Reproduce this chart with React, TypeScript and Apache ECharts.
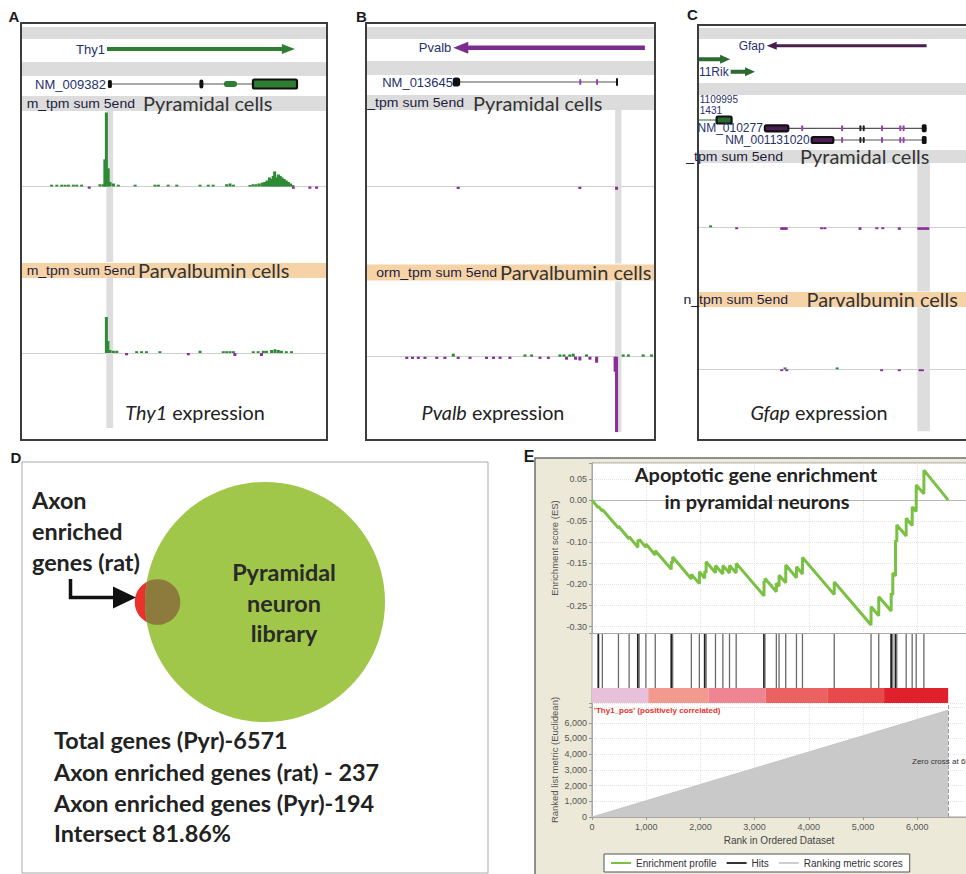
import React, { useEffect, useRef } from 'react';
import * as echarts from 'echarts';

// ======================= DATA =======================
// Panels A–C: genome-browser windows. x = position inside the visible window (0–100, arbitrary genomic units);
// track values = 5'-end tag density (positive = + strand, negative = − strand).

// ---- A · Thy1 ----
const thy1GeneSpan = [28.1, 89.5];
const thy1TxId = 'NM_009382';
const thy1TxSpan = [28.4, 90.2];
const thy1Exons = [[28.4, 29.7], [58.3, 59.6], [66.3, 70.6], [75.8, 90.2]];
const thy1Tss = [27.9, 30.1];
const thy1PyrPlus = [[10.0, 1.2], [11.7, 1.2], [13.3, 1.2], [14.4, 1.2], [15.5, 1.2], [17.1, 1.2], [18.2, 1.2], [19.8, 1.2], [25.8, 1.5], [26.9, 1.5], [27.4, 18], [27.9, 49], [28.5, 12], [29.1, 3], [30.2, 2], [31.8, 1.2], [37.3, 1.2], [43.8, 1.2], [44.9, 1.2], [48.1, 1.2], [50.9, 1.2], [58.5, 1.2], [61.2, 1.2], [62.8, 1.2], [67.2, 1.5], [68.3, 2], [69.4, 1.2], [74.8, 1], [75.8, 1.5], [76.8, 1.5], [77.8, 2], [78.8, 2.5], [79.6, 3], [80.4, 4], [81.2, 6], [81.8, 5], [82.4, 7], [82.9, 10], [83.5, 6], [84.1, 8], [84.7, 7], [85.3, 6], [86.0, 5], [86.7, 4], [87.4, 3], [88.1, 2], [88.8, 1]];
const thy1PyrMinus = [[22.3, -1.5], [89.0, -1.5], [94.4, -1.5], [96.6, -1.5]];
const thy1ParvPlus = [[27.9, 24], [28.4, 8], [29.1, 2], [30.2, 1.5], [31.3, 1.5], [37.8, 1.2], [39.4, 1.2], [41.0, 1.2], [45.4, 1.2], [58.5, 1.5], [66.1, 1.2], [67.2, 1.2], [68.3, 1.2], [69.4, 1.2], [75.9, 1.2], [77.5, 1.2], [79.2, 1.5], [80.2, 1.5], [81.9, 2], [83.0, 2.5], [84.1, 2], [85.1, 1.5], [86.7, 1.2], [88.4, 1.2]];
const thy1ParvMinus = [[34.5, -1.5], [54.7, -1.5], [69.9, -2], [78.6, -2]];

// ---- B · Pvalb ----
const pvalbGeneSpan = [30.2, 96.5];
const pvalbTxId = 'NM_013645';
const pvalbTxSpan = [30.8, 86.9];
const pvalbExons = [[30.4, 32.2], [73.8, 74.4], [79.6, 80.2], [86.5, 87.1]];
const pvalbTss = [86.2, 88.4];
const pvalbPyrPlus: number[][] = [];
const pvalbPyrMinus = [[31.9, -1.5], [74.0, -1.5], [86.7, -2]];
const pvalbParvPlus = [[30.2, 2], [55.0, 1.5], [57.3, 1.5], [67.1, 1.5], [68.5, 1.5], [70.5, 1.5], [71.7, 2], [76.3, 1.5], [89.0, 1.5], [90.8, 1.5], [95.9, 1.5], [98.8, 1.5]];
const pvalbParvMinus = [[14.1, -1.5], [16.1, -1.5], [18.1, -1.5], [20.4, -1.5], [24.5, -1.5], [27.3, -1.5], [31.9, -1.5], [36.0, -1.5], [41.7, -1.5], [44.1, -1.5], [46.4, -1.5], [49.8, -1.5], [60.2, -1.5], [63.1, -1.5], [69.4, -2], [72.5, -2], [74.0, -2.5], [77.5, -2], [79.8, -4], [86.2, -10], [86.7, -50]];

// ---- C · Gfap ----
const gfapGeneSpan = [22.9, 76.2];
const upGeneSpan = [0, 10.7];
const rikGeneSpan = [10.9, 19.0];
const upTxSpan = [0, 11.2];
const upExons = [[6.2, 11.2]];
const gfapTx1Id = 'NM_010277';
const gfapTx1Exons = [[22.3, 30.1], [34.4, 34.9], [47.7, 48.2], [53.8, 54.4], [54.9, 55.5], [61.0, 61.5], [67.1, 67.6], [68.2, 68.7], [74.6, 76.2]];
const gfapTx2Id = 'NM_001131020';
const gfapTx2Exons = [[37.9, 45.1], [47.7, 48.2], [53.8, 54.4], [54.9, 55.5], [61.0, 61.5], [67.1, 67.6], [68.2, 68.7], [74.6, 76.2]];
const gfapTss = [73.1, 77.3];
const gfapPyrPlus = [[4.2, 1.5]];
const gfapPyrMinus = [[12.9, -1.5], [27.9, -2], [28.6, -2], [29.4, -2], [41.2, -1.5], [42.3, -1.5], [54.0, -2], [59.6, -1.5], [61.6, -1.5], [67.1, -2], [73.6, -2], [74.4, -2], [75.2, -2], [76.0, -2], [76.6, -2]];
const gfapParvPlus = [[29.0, 1.5], [46.4, 1.5]];
const gfapParvMinus = [[27.9, -1.5], [29.6, -1.5], [61.2, -1.5], [67.1, -1.5], [74.0, -1.5], [74.8, -1.5]];

// ---- D · Venn ----
const totalPyr = 6571;
const axonRat = 237;
const axonPyr = 194;

// ---- E · GSEA ----
const esProfile = [
  [0, 0], [117, -0.018], [118, -0.015], [191, -0.026], [192, -0.022], [488, -0.066], [489, -0.062],
  [685, -0.092], [686, -0.087], [846, -0.112], [847, -0.094], [870, -0.098], [871, -0.093],
  [994, -0.112], [995, -0.104], [1167, -0.130], [1168, -0.120], [1463, -0.164], [1464, -0.145],
  [1488, -0.149], [1489, -0.135], [1833, -0.187], [1834, -0.176], [1981, -0.198], [1982, -0.170],
  [2080, -0.185], [2081, -0.168], [2105, -0.172], [2106, -0.146], [2278, -0.172], [2279, -0.155],
  [2414, -0.175], [2415, -0.155], [2537, -0.173], [2538, -0.155], [2660, -0.173], [2661, -0.150],
  [3173, -0.227], [3174, -0.192], [3191, -0.195], [3192, -0.186], [3401, -0.217], [3402, -0.197],
  [3451, -0.204], [3452, -0.178], [3574, -0.196], [3575, -0.154], [3772, -0.184], [3773, -0.158],
  [3883, -0.175], [3884, -0.136], [4469, -0.224], [4470, -0.194], [5148, -0.296], [5149, -0.253],
  [5290, -0.274], [5291, -0.229], [5519, -0.263], [5520, -0.221], [5549, -0.225], [5550, -0.173],
  [5599, -0.180], [5600, -0.095], [5623, -0.099], [5624, -0.059], [5796, -0.085], [5797, -0.043],
  [5907, -0.060], [5908, -0.016], [5981, -0.027], [5982, 0.036], [6123, 0.015], [6124, 0.071],
  [6571, 0.0],
];
const hitRanks = [117, 191, 488, 685, 846, 870, 994, 1167, 1463, 1488, 1833, 1981, 2080, 2105, 2278, 2414, 2537, 2660, 3173, 3191, 3401, 3451, 3574, 3772, 3883, 4469, 5148, 5290, 5519, 5549, 5599, 5623, 5796, 5907, 5981, 6123];
const hitShade = [1, 0, 0, 0, 1, 0, 0, 0, 1, 0, 0, 0, 1, 0, 0, 0, 0, 0, 1, 0, 0, 0, 0, 0, 0, 0, 0, 0, 1, 0, 1, 0, 0, 0, 0, 0];
const rankBins = [0, 1037, 2148, 3204, 4352, 5389, 6571];
const metricProfile = [[0, 0], [6571, 6800]];
const zeroCross = 6571;
const classLabel = "'Thy1_pos' (positively correlated)";

// ======================= STYLE =======================
const SANS = '"Liberation Sans", Arial, sans-serif';
const CAL = 'Lato, "Open Sans", sans-serif';
const GENE_LABEL = '#27306b';
const GENE_GREEN = '#2e7d32';
const GENE_PURPLE = '#7b2c8f';
const TICK_PURPLE = '#9a3fae';
const GFAP_PURPLE = '#4b1e50';
const SIG_GREEN = '#2f8a36';
const SIG_PURPLE = '#8a2e98';
const ES_GREEN = '#7ac143';
const BAND_GRAY = '#dcdcdc';
const BAND_ORANGE = '#f6d3a6';
const BIN_COLORS = ['#e9c0da', '#f29a8e', '#ef8493', '#ea6362', '#e84a4b', '#e0202b'];

type Feat = { k: string; s: number; e: number; y: number; fill?: string; stroke?: string; h?: number; shaft?: number; headL?: number; headH?: number; label?: string; round?: boolean; size?: number };

function exonFeats(ex: number[][], y: number, styles: Partial<Feat>[]): Feat[] {
  return ex.map((r, i) => ({ k: 'box', s: r[0], e: r[1], y, ...(styles[Math.min(i, styles.length - 1)] as any) }));
}

const featsA: Feat[] = [
  { k: 'arrowR', s: thy1GeneSpan[0], e: thy1GeneSpan[1], y: 49, fill: GENE_GREEN, shaft: 4, headL: 13, headH: 10, label: 'Thy1' },
  { k: 'line', s: thy1TxSpan[0], e: thy1TxSpan[1], y: 84, fill: '#555', label: thy1TxId },
  ...exonFeats(thy1Exons, 84, [
    { fill: '#111', h: 8 },
    { fill: '#111', h: 9, round: true },
    { fill: GENE_GREEN, h: 6, round: true },
    { fill: GENE_GREEN, h: 9, stroke: '#111' },
  ]),
];
const featsB: Feat[] = [
  { k: 'arrowL', s: pvalbGeneSpan[0], e: pvalbGeneSpan[1], y: 47.7, fill: GENE_PURPLE, shaft: 4.5, headL: 15, headH: 12, label: 'Pvalb' },
  { k: 'line', s: pvalbTxSpan[0], e: pvalbTxSpan[1], y: 82, fill: '#555', label: pvalbTxId },
  ...exonFeats(pvalbExons, 82, [
    { fill: '#111', h: 7, stroke: '#111' },
    { fill: TICK_PURPLE, h: 6 },
    { fill: TICK_PURPLE, h: 6 },
    { fill: '#111', h: 8 },
  ]),
];
const tickStyle = { fill: TICK_PURPLE, h: 6 };
const featsC: Feat[] = [
  { k: 'arrowL', s: gfapGeneSpan[0], e: gfapGeneSpan[1], y: 45.7, fill: GFAP_PURPLE, shaft: 3, headL: 10, headH: 8, label: 'Gfap', size: 12 },
  { k: 'arrowR', s: upGeneSpan[0], e: upGeneSpan[1], y: 59.3, fill: '#2d6a2f', shaft: 4, headL: 10, headH: 9 },
  { k: 'arrowR', s: rikGeneSpan[0], e: rikGeneSpan[1], y: 71.7, fill: '#2d6a2f', shaft: 4, headL: 10, headH: 9, label: '11Rik', size: 12 },
  { k: 'text', s: 0.6, e: 0.6, y: 99.5, label: '1109995', size: 10 },
  { k: 'text', s: 0.6, e: 0.6, y: 110.5, label: '1431', size: 10 },
  { k: 'line', s: upTxSpan[0], e: upTxSpan[1], y: 120, fill: '#2d6a2f' },
  ...exonFeats(upExons, 120, [{ fill: '#2d6a2f', h: 7, stroke: '#111' }]),
  { k: 'line', s: gfapTx1Exons[0][0], e: gfapTx1Exons[gfapTx1Exons.length - 1][1], y: 128.3, fill: '#555', label: gfapTx1Id, size: 12 },
  ...exonFeats(gfapTx1Exons, 128.3, [{ fill: GFAP_PURPLE, h: 6, stroke: '#111' }, tickStyle, tickStyle, { fill: '#222', h: 6 }, { fill: '#222', h: 6 }, tickStyle, tickStyle, tickStyle, { fill: '#111', h: 8 }]),
  { k: 'line', s: gfapTx2Exons[0][0], e: gfapTx2Exons[gfapTx2Exons.length - 1][1], y: 140, fill: '#555', label: gfapTx2Id, size: 12 },
  ...exonFeats(gfapTx2Exons, 140, [{ fill: GFAP_PURPLE, h: 6, stroke: '#111' }, tickStyle, { fill: '#222', h: 6 }, { fill: '#222', h: 6 }, tickStyle, tickStyle, tickStyle, { fill: '#111', h: 8 }]),
];

const panels = [
  { left: 21, width: 306, gene: [23, 73], pyr: [111, 151], parv: [278, 150], feats: featsA, tss: thy1Tss, tracks: [thy1PyrPlus, thy1PyrMinus, thy1ParvPlus, thy1ParvMinus] },
  { left: 366, width: 289, gene: [23, 72], pyr: [110, 153.4], parv: [281.3, 150.8], feats: featsB, tss: pvalbTss, tracks: [pvalbPyrPlus, pvalbPyrMinus, pvalbParvPlus, pvalbParvMinus] },
  { left: 698, width: 300, gene: [25, 125], pyr: [163, 128.6], parv: [307.3, 124], feats: featsC, tss: gfapTss, tracks: [gfapPyrPlus, gfapPyrMinus, gfapParvPlus, gfapParvMinus] },
];

function txt(x: number, y: number, text: string, o: any = {}) {
  const align = o.align || 'left';
  const va = o.va || 'middle';
  const el: any = {
    type: 'text', x, y, silent: true, z: o.z ?? 20,
    style: {
      text, fill: o.fill || '#222', fontSize: o.size || 12, fontFamily: o.family || SANS,
      fontWeight: o.weight || 'normal', fontStyle: o.italic ? 'italic' : 'normal',
      align, textAlign: align, verticalAlign: va, textVerticalAlign: va, rich: o.rich,
    },
  };
  if (o.scaleX) el.scaleX = o.scaleX;
  return el;
}
function rect(x: number, y: number, w: number, h: number, style: any, z = 1) {
  return { type: 'rect', silent: true, z, shape: { x, y, width: w, height: h }, style };
}

function geneRenderer(feats: Feat[]) {
  return (params: any, api: any) => {
    const f = feats[params.dataIndex];
    const x1 = api.coord([f.s, 0])[0];
    const x2 = api.coord([f.e, 0])[0];
    const y = f.y;
    const children: any[] = [];
    if (f.k === 'arrowR' || f.k === 'arrowL') {
      const sh = (f.shaft || 4) / 2, hh = (f.headH || 8) / 2, hl = f.headL || 10;
      const pts = f.k === 'arrowR'
        ? [[x1, y - sh], [x2 - hl, y - sh], [x2 - hl, y - hh], [x2, y], [x2 - hl, y + hh], [x2 - hl, y + sh], [x1, y + sh]]
        : [[x2, y - sh], [x1 + hl, y - sh], [x1 + hl, y - hh], [x1, y], [x1 + hl, y + hh], [x1 + hl, y + sh], [x2, y + sh]];
      children.push({ type: 'polygon', shape: { points: pts }, style: { fill: f.fill } });
    } else if (f.k === 'line') {
      children.push({ type: 'line', shape: { x1, y1: y, x2, y2: y }, style: { stroke: f.fill, lineWidth: 1.2 } });
    } else if (f.k === 'box') {
      const w = Math.max(x2 - x1, 2);
      const h = f.h || 6;
      children.push({
        type: 'rect',
        shape: { x: x1, y: y - h / 2, width: w, height: h, r: f.round ? Math.min(w, h) / 2 : 1.5 },
        style: f.stroke ? { fill: f.fill, stroke: f.stroke, lineWidth: 2.2 } : { fill: f.fill },
      });
    }
    if (f.label) {
      const isText = f.k === 'text';
      const tx = isText ? x1 : x1 - 2;
      const align = isText ? 'left' : 'right';
      children.push({
        type: 'text', x: tx, y,
        style: { text: f.label, fill: GENE_LABEL, fontSize: f.size || 13, fontFamily: SANS, align, textAlign: align, verticalAlign: 'middle', textVerticalAlign: 'middle' },
      });
    }
    return { type: 'group', children };
  };
}

function buildVennLens(cx: number, cy: number, R: number, r: number, d: number) {
  const a = (d * d + R * R - r * r) / (2 * d);
  const h = Math.sqrt(Math.max(R * R - a * a, 0));
  const px = cx - a;
  const sx = cx - d;
  const large = px < sx ? 1 : 0;
  return `M ${px} ${cy - h} A ${r} ${r} 0 ${large} 1 ${px} ${cy + h} A ${R} ${R} 0 0 1 ${px} ${cy - h} Z`;
}
function lensArea(R: number, r: number, d: number) {
  if (d >= R + r) return 0;
  if (d <= R - r) return Math.PI * r * r;
  const a1 = r * r * Math.acos((d * d + r * r - R * R) / (2 * d * r));
  const a2 = R * R * Math.acos((d * d + R * R - r * r) / (2 * d * R));
  const a3 = 0.5 * Math.sqrt((-d + r + R) * (d + r - R) * (d - r + R) * (d + r + R));
  return a1 + a2 - a3;
}

function buildOption() {
  const grid: any[] = [];
  const xAxis: any[] = [];
  const yAxis: any[] = [];
  const series: any[] = [];
  const hidden = { show: false };

  panels.forEach((p) => {
    const gi = grid.length;
    grid.push({ left: p.left, width: p.width, top: p.gene[0], height: p.gene[1], outerBoundsMode: 'none' });
    grid.push({ left: p.left, width: p.width, top: p.pyr[0], height: p.pyr[1], outerBoundsMode: 'none' });
    grid.push({ left: p.left, width: p.width, top: p.parv[0], height: p.parv[1], outerBoundsMode: 'none' });
    for (let k = 0; k < 3; k++) {
      xAxis.push({
        gridIndex: gi + k, type: 'value', min: 0, max: 100, show: k > 0,
        axisLine: { show: true, onZero: true, lineStyle: { color: '#d0d0d0', width: 1 } },
        axisTick: hidden, axisLabel: hidden, splitLine: hidden,
      });
      yAxis.push(k === 0
        ? { gridIndex: gi + k, type: 'value', min: 0, max: 1, show: false }
        : { gridIndex: gi + k, type: 'value', min: -50, max: 50, show: false, splitLine: hidden });
    }
    series.push({
      type: 'custom', name: 'gene models', xAxisIndex: gi, yAxisIndex: gi, silent: true, clip: false,
      data: p.feats.map((f) => [f.s, f.e]), renderItem: geneRenderer(p.feats), z: 3,
    });
    p.tracks.forEach((trk, ti) => {
      const idx = gi + 1 + (ti >> 1);
      const plus = ti % 2 === 0;
      series.push({
        type: 'bar', name: 'track', xAxisIndex: idx, yAxisIndex: idx, silent: true,
        data: trk, barWidth: 3, barGap: '-100%',
        itemStyle: { color: plus ? SIG_GREEN : SIG_PURPLE },
        markArea: plus ? { silent: true, itemStyle: { color: '#dddddd' }, data: [[{ xAxis: p.tss[0] }, { xAxis: p.tss[1] }]] } : undefined,
      });
    });
  });

  // ---------- Panel E ----------
  const eLeft = 592;
  const eMax = 6900;
  const gES = grid.length;
  grid.push({ left: eLeft, right: 0, top: 463, height: 170, outerBoundsMode: 'none' });
  grid.push({ left: eLeft, right: 0, top: 633, height: 55, outerBoundsMode: 'none' });
  grid.push({ left: eLeft, right: 0, top: 688, height: 15, outerBoundsMode: 'none' });
  grid.push({ left: eLeft, right: 0, top: 703, height: 114, outerBoundsMode: 'none' });
  const dotted = { show: true, lineStyle: { color: '#e3e3e3', type: 'dotted', width: 1 } };
  const axLbl = { fontSize: 9, color: '#555', fontFamily: SANS };
  xAxis.push({ gridIndex: gES, type: 'value', min: 0, max: eMax, interval: 1000, axisLine: { show: true, onZero: false, lineStyle: { color: '#a8a8a8' } }, axisTick: hidden, axisLabel: hidden, splitLine: dotted });
  yAxis.push({
    gridIndex: gES, type: 'value', min: -0.315, max: 0.088, splitNumber: 8,
    axisLine: { show: true, onZero: false, lineStyle: { color: '#a8a8a8' } },
    axisTick: { show: true, length: 3, lineStyle: { color: '#999' } },
    axisLabel: { ...axLbl, margin: 5, formatter: (v: number) => { const k = Math.round(v / 0.05); return Math.abs(v - k * 0.05) < 1e-6 ? (k * 0.05).toFixed(2) : ''; } },
    splitLine: dotted,
    name: 'Enrichment score (ES)', nameLocation: 'middle', nameGap: 33, nameTextStyle: { fontSize: 9.5, color: '#555', fontFamily: SANS },
  });
  xAxis.push({ gridIndex: gES + 1, type: 'value', min: 0, max: eMax, show: false });
  yAxis.push({ gridIndex: gES + 1, type: 'value', min: 0, max: 1, show: false });
  xAxis.push({ gridIndex: gES + 2, type: 'value', min: 0, max: eMax, show: false });
  yAxis.push({ gridIndex: gES + 2, type: 'value', min: 0, max: 1, show: false });
  xAxis.push({
    gridIndex: gES + 3, type: 'value', min: 0, max: eMax, interval: 1000,
    axisLine: { show: true, onZero: false, lineStyle: { color: '#a8a8a8' } },
    axisTick: { show: true, length: 3, lineStyle: { color: '#999' } },
    axisLabel: { ...axLbl, margin: 5, formatter: (v: number) => (v % 1000 === 0 ? v.toLocaleString('en-US') : '') },
    splitLine: dotted,
    name: 'Rank in Ordered Dataset', nameLocation: 'middle', nameGap: 18, nameTextStyle: { fontSize: 10, color: '#444', fontFamily: SANS },
  });
  yAxis.push({
    gridIndex: gES + 3, type: 'value', min: 0, max: 7260, interval: 1000,
    axisLine: { show: true, onZero: false, lineStyle: { color: '#a8a8a8' } },
    axisTick: { show: true, length: 3, lineStyle: { color: '#999' } },
    axisLabel: { ...axLbl, margin: 5, formatter: (v: number) => (v <= 6000 && v % 1000 === 0 ? v.toLocaleString('en-US') : '') },
    splitLine: dotted,
    name: 'Ranked list metric (Euclidean)', nameLocation: 'middle', nameGap: 33, nameTextStyle: { fontSize: 9.5, color: '#555', fontFamily: SANS },
  });

  series.push({
    type: 'line', name: 'Enrichment profile', xAxisIndex: gES, yAxisIndex: gES, data: esProfile,
    symbol: 'none', showSymbol: false, lineStyle: { color: ES_GREEN, width: 3 }, itemStyle: { color: ES_GREEN }, z: 5,
    markLine: { silent: true, symbol: 'none', label: { show: false }, lineStyle: { color: '#b8b8b8', type: 'solid', width: 1 }, data: [{ yAxis: 0 }] },
  });
  series.push({
    type: 'custom', name: 'Hits', xAxisIndex: gES + 1, yAxisIndex: gES + 1, silent: true,
    itemStyle: { color: '#333' },
    data: hitRanks.map((r) => [r, 0]),
    renderItem: (params: any, api: any) => {
      const cs = params.coordSys;
      const x = api.coord([api.value(0), 0])[0];
      const dark = hitShade[params.dataIndex] === 1;
      return { type: 'line', shape: { x1: x, y1: cs.y + 1, x2: x, y2: cs.y + cs.height }, style: { stroke: dark ? '#222' : '#6a6a6a', lineWidth: dark ? 1.8 : 1.3 } };
    },
  });
  series.push({
    type: 'custom', name: 'rank bins', xAxisIndex: gES + 2, yAxisIndex: gES + 2, silent: true,
    data: rankBins.slice(0, -1).map((b, i) => [b, rankBins[i + 1]]),
    renderItem: (params: any, api: any) => {
      const cs = params.coordSys;
      const xa = api.coord([api.value(0), 0])[0];
      const xb = api.coord([api.value(1), 0])[0];
      return { type: 'rect', shape: { x: xa, y: cs.y, width: xb - xa, height: cs.height }, style: { fill: BIN_COLORS[params.dataIndex] } };
    },
  });
  series.push({
    type: 'line', name: 'Ranking metric scores', xAxisIndex: gES + 3, yAxisIndex: gES + 3, data: metricProfile,
    symbol: 'none', showSymbol: false, lineStyle: { color: '#c4c4c4', width: 1 }, itemStyle: { color: '#cfcfcf' },
    areaStyle: { color: '#c9c9c9', opacity: 1 },
    markLine: { silent: true, symbol: 'none', label: { show: false }, lineStyle: { color: '#9a9a9a', type: 'dashed', width: 1 }, data: [{ xAxis: zeroCross }] },
  });

  // ---------- Venn (panel D) ----------
  const vCx = 265, vCy = 602, vR = 120;
  const vr = vR * Math.sqrt(axonRat / totalPyr);
  const target = (axonPyr / axonRat) * Math.PI * vr * vr;
  let lo = vR - vr, hi = vR + vr;
  for (let i = 0; i < 60; i++) {
    const mid = (lo + hi) / 2;
    if (lensArea(vR, vr, mid) > target) lo = mid; else hi = mid;
  }
  const vd = (lo + hi) / 2;
  echarts.graphic.registerShape('vennLens', (echarts.graphic as any).extendPath(buildVennLens(vCx, vCy, vR, vr, vd), {}));

  const pct = ((axonPyr / axonRat) * 100).toFixed(2);
  const smallTxt = { size: 12, align: 'right', fill: '#1d1d40', scaleX: 1.17 };
  const trackTitle = { size: 18.5, family: CAL, fill: '#333', scaleX: 1.08 };
  const capRich = { i: { fontStyle: 'italic', fontSize: 19, fontFamily: CAL, fill: '#222' } };
  const cap = { size: 19, family: CAL, align: 'center', fill: '#222', rich: capRich, scaleX: 1.04 };
  const venn = { size: 22.5, family: CAL, weight: 'bold', fill: '#222', scaleX: 1.04 };

  const graphics: any[] = [
    // panel E background
    rect(535, 458, 440, 420, { fill: '#ece9d8', stroke: '#6f6f6f', lineWidth: 1.5 }, -10),
    rect(592, 463, 380, 354, { fill: '#ffffff', stroke: '#a0a0a0', lineWidth: 1 }, -5),
    // panel D frame
    rect(22, 462, 466, 411, { fill: 'none', stroke: '#a8a8a8', lineWidth: 1 }, 1),
    // Panel A bands & frame
    rect(21, 27, 306, 12, { fill: BAND_GRAY }), rect(21, 62, 306, 14, { fill: BAND_GRAY }), rect(21, 96, 306, 15, { fill: BAND_GRAY }),
    rect(21, 263, 306, 15, { fill: BAND_ORANGE }),
    rect(21, 23, 306, 417, { fill: 'none', stroke: '#3c3c3c', lineWidth: 2 }, 10),
    // Panel B
    rect(366, 27, 289, 12, { fill: BAND_GRAY }), rect(366, 61, 289, 14, { fill: BAND_GRAY }), rect(366, 95, 289, 15, { fill: BAND_GRAY }),
    rect(366, 264.5, 289, 16, { fill: BAND_ORANGE }),
    rect(366, 23, 289, 417, { fill: 'none', stroke: '#3c3c3c', lineWidth: 2 }, 10),
    // Panel C
    rect(698, 28, 300, 11, { fill: BAND_GRAY }), rect(698, 83, 300, 12, { fill: BAND_GRAY }), rect(698, 150, 300, 13, { fill: BAND_GRAY }),
    rect(698, 292, 300, 15, { fill: BAND_ORANGE }),
    rect(698, 25, 300, 415, { fill: 'none', stroke: '#3c3c3c', lineWidth: 2 }, 10),

    // Panel letters
    txt(14, 16.5, 'A', { size: 15, weight: 'bold', align: 'center', fill: '#1a1a1a' }),
    txt(361.5, 16, 'B', { size: 15, weight: 'bold', align: 'center', fill: '#1a1a1a' }),
    txt(692.5, 14, 'C', { size: 15, weight: 'bold', align: 'center', fill: '#1a1a1a' }),
    txt(16, 457, 'D', { size: 15, weight: 'bold', align: 'center', fill: '#1a1a1a' }),
    txt(529, 456, 'E', { size: 16, weight: 'bold', align: 'center', fill: '#1a1a1a' }),

    // track titles
    txt(135, 103.5, 'm_tpm sum 5end', smallTxt),
    txt(143, 104, 'Pyramidal cells', trackTitle),
    txt(135, 270.7, 'm_tpm sum 5end', smallTxt),
    txt(138, 270.7, 'Parvalbumin cells', trackTitle),
    txt(464, 103, '_tpm sum 5end', smallTxt),
    txt(473, 103.5, 'Pyramidal cells', trackTitle),
    txt(497, 272.5, 'orm_tpm sum 5end', smallTxt),
    txt(500, 272.5, 'Parvalbumin cells', trackTitle),
    txt(783, 156.5, '_tpm sum 5end', smallTxt),
    txt(800, 156.5, 'Pyramidal cells', trackTitle),
    txt(788, 299.5, 'n_tpm sum 5end', smallTxt),
    txt(806.5, 299.5, 'Parvalbumin cells', trackTitle),

    // expression captions
    txt(195, 413, '{i|Thy1} expression', cap),
    txt(493, 413, '{i|Pvalb} expression', cap),
    txt(819, 413, '{i|Gfap} expression', cap),

    // Venn
    { type: 'circle', silent: true, z: 2, shape: { cx: vCx - vd, cy: vCy, r: vr }, style: { fill: '#e8322b' } },
    { type: 'circle', silent: true, z: 3, shape: { cx: vCx, cy: vCy, r: vR }, style: { fill: '#a0c64a' } },
    { type: 'vennLens', silent: true, z: 4, style: { fill: '#8c7b3d' } },
    { type: 'polyline', silent: true, z: 5, shape: { points: [[70.5, 579], [70.5, 597.5], [116, 597.5]] }, style: { stroke: '#111', lineWidth: 3.5 } },
    { type: 'polygon', silent: true, z: 5, shape: { points: [[113, 586.5], [136, 597.5], [113, 608.5]] }, style: { fill: '#111' } },
    txt(32, 500, 'Axon', venn),
    txt(32, 531, 'enriched', venn),
    txt(32, 562, 'genes (rat)', venn),
    txt(284, 572, 'Pyramidal', { ...venn, align: 'center', fill: '#2a2a2a' }),
    txt(284, 603, 'neuron', { ...venn, align: 'center', fill: '#2a2a2a' }),
    txt(284, 633, 'library', { ...venn, align: 'center', fill: '#2a2a2a' }),
    txt(54, 740, `Total genes (Pyr)-${totalPyr}`, venn),
    txt(54, 772, `Axon enriched genes (rat) - ${axonRat}`, venn),
    txt(54, 803, `Axon enriched genes (Pyr)-${axonPyr}`, venn),
    txt(54, 833, `Intersect ${pct}%`, venn),

    // E annotations
    txt(756, 475, 'Apoptotic gene enrichment', { size: 19, family: CAL, weight: 'bold', align: 'center', fill: '#222', scaleX: 1.05 }),
    txt(757, 502, 'in pyramidal neurons', { size: 19, family: CAL, weight: 'bold', align: 'center', fill: '#222', scaleX: 1.05 }),
    txt(594, 710, classLabel, { size: 8, weight: 'bold', fill: '#e8302a' }),
    txt(912, 761, `Zero cross at ${zeroCross}`, { size: 8, fill: '#333' }),
  ];

  return {
    animation: false,
    backgroundColor: '#ffffff',
    grid, xAxis, yAxis, series,
    legend: {
      left: 604, top: 854, orient: 'horizontal', padding: [4, 7], itemGap: 10, itemWidth: 20, itemHeight: 2,
      backgroundColor: '#fff', borderColor: '#555', borderWidth: 1, borderRadius: 0, selectedMode: false,
      textStyle: { fontSize: 10, fontFamily: SANS, color: '#333' },
      data: [
        { name: 'Enrichment profile', icon: 'rect', itemStyle: { color: ES_GREEN } },
        { name: 'Hits', icon: 'rect', itemStyle: { color: '#333' } },
        { name: 'Ranking metric scores', icon: 'rect', itemStyle: { color: '#cfcfcf' } },
      ],
    },
    graphic: { elements: graphics },
  };
}

export default function App() {
  const ref = useRef<HTMLDivElement>(null);
  useEffect(() => {
    if (!ref.current) return;
    const chart = echarts.init(ref.current, undefined, { renderer: 'svg' });
    chart.setOption(buildOption() as any);
    return () => chart.dispose();
  }, []);
  return <div ref={ref} style={{ position: 'absolute', left: 0, top: 0, width: 966, height: 874, background: '#fff' }} />;
}
